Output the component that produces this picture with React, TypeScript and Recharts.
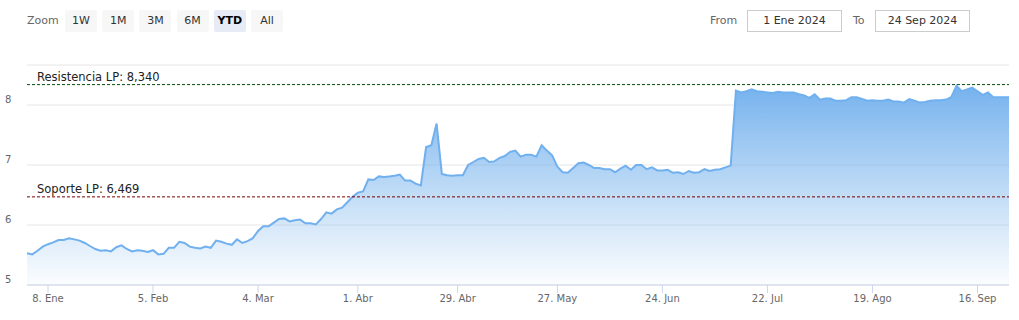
import React from "react";
import {
  ComposedChart,
  Area,
  XAxis,
  YAxis,
  CartesianGrid,
  ReferenceLine,
} from "recharts";

// cierre diario (sesiones hábiles 2 Ene – 24 Sep 2024)
const values = [
  5.53, 5.51, 5.57, 5.64, 5.68, 5.71, 5.75, 5.75, 5.78, 5.76,
  5.74, 5.7, 5.65, 5.6, 5.57, 5.58, 5.56, 5.63, 5.66, 5.6,
  5.56, 5.58, 5.57, 5.55, 5.58, 5.51, 5.52, 5.62, 5.62, 5.72,
  5.7, 5.64, 5.62, 5.61, 5.64, 5.62, 5.74, 5.72, 5.69, 5.67,
  5.76, 5.7, 5.73, 5.78, 5.9, 5.98, 5.98, 6.04, 6.1, 6.11,
  6.06, 6.08, 6.09, 6.03, 6.03, 6.01, 6.1, 6.21, 6.19, 6.26,
  6.29, 6.38, 6.47, 6.54, 6.56, 6.76, 6.75, 6.81, 6.8, 6.81,
  6.82, 6.84, 6.74, 6.74, 6.69, 6.66, 7.3, 7.33, 7.69, 6.85,
  6.83, 6.82, 6.83, 6.83, 7.0, 7.05, 7.1, 7.12, 7.05, 7.06,
  7.12, 7.15, 7.22, 7.24, 7.14, 7.17, 7.17, 7.14, 7.33, 7.24,
  7.16, 6.97, 6.88, 6.87, 6.95, 7.03, 7.04, 7.0, 6.95, 6.95,
  6.93, 6.93, 6.88, 6.94, 6.99, 6.92, 7.0, 7.0, 6.93, 6.96,
  6.91, 6.91, 6.92, 6.87, 6.88, 6.85, 6.9, 6.87, 6.88, 6.93,
  6.9, 6.92, 6.93, 6.96, 6.99, 8.24, 8.21, 8.23, 8.26, 8.23,
  8.22, 8.21, 8.2, 8.22, 8.21, 8.21, 8.21, 8.18, 8.16, 8.12,
  8.18, 8.09, 8.11, 8.11, 8.07, 8.07, 8.08, 8.13, 8.13, 8.1,
  8.07, 8.08, 8.07, 8.07, 8.09, 8.06, 8.06, 8.04, 8.1, 8.07,
  8.04, 8.05, 8.07, 8.08, 8.08, 8.09, 8.13, 8.32, 8.23, 8.26,
  8.29, 8.23, 8.17, 8.21, 8.13, 8.13, 8.13, 8.13,
];

// posición (sesión) de cada etiqueta del eje X
const tickIndex = [4, 24, 44, 63, 82, 101, 121, 141, 161, 181];
const tickLabels = [
  "8. Ene", "5. Feb", "4. Mar", "1. Abr", "29. Abr",
  "27. May", "24. Jun", "22. Jul", "19. Ago", "16. Sep",
];
const yTicks = [5, 6, 7, 8];

const zoomButtons = ["1W", "1M", "3M", "6M", "YTD", "All"];
const selectedZoom = "YTD";
const fromDate = "1 Ene 2024";
const toDate = "24 Sep 2024";

const resistance = 8.34;
const support = 6.469;
const resistanceLabel = "Resistencia LP: 8,340";
const supportLabel = "Soporte LP: 6,469";

const FONT = "DejaVu Sans, Verdana, sans-serif";

const data = values.map((v, i) => ({ i, v }));

function YTick(props: any) {
  const { y, payload } = props;
  return (
    <text x={5} y={y - 2} fill="#666" fontSize={10} fontFamily={FONT}>
      {payload.value}
    </text>
  );
}

function lineLabel(text: string) {
  return (props: any) => {
    const vb = props.viewBox;
    return (
      <text x={vb.x + 10} y={vb.y - 4} fill="#222" fontSize={11.5} fontFamily={FONT}>
        {text}
      </text>
    );
  };
}

const btnBase: React.CSSProperties = {
  position: "absolute",
  top: 10,
  width: 32,
  height: 22,
  lineHeight: "22px",
  textAlign: "center",
  borderRadius: 2,
  fontSize: 11,
  color: "#333",
};

const boxBase: React.CSSProperties = {
  position: "absolute",
  top: 10,
  width: 93,
  height: 20,
  lineHeight: "20px",
  border: "1px solid #ccc",
  textAlign: "center",
  fontSize: 11,
  color: "#333",
};

export default function App() {
  return (
    <div
      style={{
        position: "absolute",
        left: 0,
        top: 0,
        width: 1019,
        height: 320,
        background: "#fff",
        fontFamily: FONT,
      }}
    >
      <ComposedChart
        width={1019}
        height={320}
        data={data}
        margin={{ top: 65, right: 10, bottom: 5, left: 0 }}
      >
        <defs>
          <linearGradient id="areaFill" x1="0" y1="0" x2="0" y2="1">
            <stop offset="0%" stopColor="#6eaeed" stopOpacity={0.95} />
            <stop offset="100%" stopColor="#7cb5ec" stopOpacity={0.03} />
          </linearGradient>
        </defs>
        <CartesianGrid vertical={false} stroke="#e6e6e6" />
        <XAxis
          dataKey="i"
          type="number"
          domain={[0, values.length - 1]}
          ticks={tickIndex}
          tickFormatter={(v: number) => tickLabels[tickIndex.indexOf(v)]}
          axisLine={{ stroke: "#ccd6eb" }}
          tickLine={{ stroke: "#ccd6eb" }}
          tickSize={8}
          height={30}
          tick={{ fill: "#666", fontSize: 10, fontFamily: FONT }}
        />
        <YAxis
          width={27}
          type="number"
          domain={[5, 26 / 3]}
          ticks={yTicks}
          axisLine={false}
          tickLine={false}
          tick={<YTick />}
          allowDataOverflow
        />
        <Area
          type="linear"
          dataKey="v"
          stroke="#70b0ef"
          strokeWidth={2}
          fill="url(#areaFill)"
          fillOpacity={1}
          baseValue={5}
          dot={false}
          activeDot={false}
          isAnimationActive={false}
        />
        <ReferenceLine
          y={resistance}
          stroke="#0b4d0b"
          strokeDasharray="3 2"
          label={lineLabel(resistanceLabel)}
        />
        <ReferenceLine
          y={support}
          stroke="#7a0000"
          strokeDasharray="3 2"
          label={lineLabel(supportLabel)}
        />
      </ComposedChart>

      <div style={{ position: "absolute", left: 27, top: 10, lineHeight: "22px", fontSize: 11, color: "#666" }}>
        Zoom
      </div>
      {zoomButtons.map((b, k) => (
        <div
          key={b}
          style={{
            ...btnBase,
            left: 65 + k * 37.2,
            background: b === selectedZoom ? "#e6ebf5" : "#f7f7f7",
            fontWeight: b === selectedZoom ? "bold" : "normal",
            color: b === selectedZoom ? "#000" : "#333",
          }}
        >
          {b}
        </div>
      ))}

      <div style={{ position: "absolute", left: 710, top: 10, lineHeight: "22px", fontSize: 11, color: "#666" }}>
        From
      </div>
      <div style={{ ...boxBase, left: 747 }}>{fromDate}</div>
      <div style={{ position: "absolute", left: 853, top: 10, lineHeight: "22px", fontSize: 11, color: "#666" }}>
        To
      </div>
      <div style={{ ...boxBase, left: 875 }}>{toDate}</div>
    </div>
  );
}
